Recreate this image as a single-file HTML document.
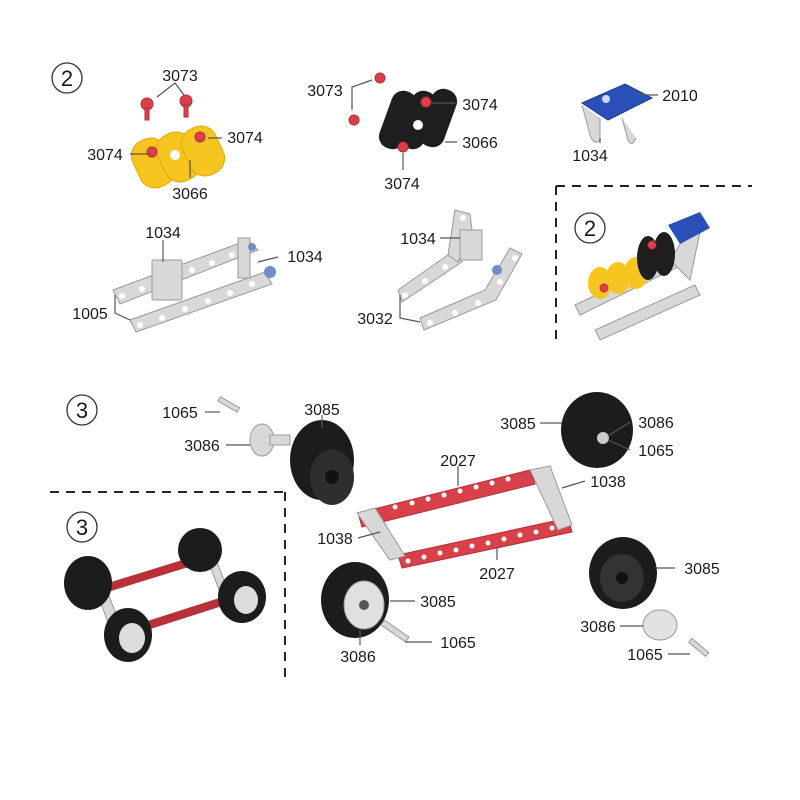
<!DOCTYPE html>
<html><head><meta charset="utf-8"><style>
html,body{margin:0;padding:0;background:#fff}
svg{display:block}
text{font-family:"Liberation Sans",sans-serif;font-size:16px;fill:#1a1a1a}
.c{font-size:22px}
.l{stroke:#555;stroke-width:1.2;fill:none}
.m{fill:#d8d8d8;stroke:#9a9a9a;stroke-width:1}
.r{fill:#d9414a;stroke:#b82c36;stroke-width:1}
.w{fill:#1c1c1c}
.h{fill:#fff}
</style></head><body>
<svg width="800" height="800" viewBox="0 0 800 800">
<!-- dashed separators -->
<g stroke="#222" stroke-width="2" stroke-dasharray="9,7" fill="none">
<line x1="556" y1="186" x2="752" y2="186"/><line x1="556" y1="186" x2="556" y2="340"/>
<line x1="50" y1="492" x2="285" y2="492"/><line x1="285" y1="492" x2="285" y2="680"/>
</g>
<!-- circled numbers -->
<g fill="none" stroke="#333" stroke-width="1.3">
<circle cx="67" cy="78" r="15"/><circle cx="590" cy="228" r="15"/>
<circle cx="82" cy="410" r="15"/><circle cx="82" cy="527" r="15"/>
</g>
<text class="c" x="67" y="86" text-anchor="middle">2</text>
<text class="c" x="590" y="236" text-anchor="middle">2</text>
<text class="c" x="82" y="418" text-anchor="middle">3</text>
<text class="c" x="82" y="535" text-anchor="middle">3</text>

<!-- top-left yellow part -->
<g fill="#f7c520" stroke="#e6a800">
<rect x="135" y="138" width="36" height="50" rx="16" transform="rotate(-25 153 163)"/>
<rect x="160" y="132" width="36" height="50" rx="16" transform="rotate(-25 178 157)"/>
<rect x="185" y="126" width="36" height="50" rx="16" transform="rotate(-25 203 151)"/>
</g>
<circle cx="175" cy="155" r="5" fill="#fff"/>
<circle cx="152" cy="152" r="5" class="r"/><circle cx="200" cy="137" r="5" class="r"/>
<circle cx="147" cy="104" r="6" class="r"/><rect x="145" y="108" width="4" height="12" class="r"/>
<circle cx="186" cy="101" r="6" class="r"/><rect x="184" y="105" width="4" height="12" class="r"/>
<path class="l" d="M157 97 L175 83 L184 95 M175 83"/>
<path class="l" d="M130 154 H150 M208 138 H222 M190 160 V178"/>
<text x="180" y="81" text-anchor="middle">3073</text>
<text x="105" y="160" text-anchor="middle">3074</text>
<text x="245" y="143" text-anchor="middle">3074</text>
<text x="190" y="199" text-anchor="middle">3066</text>

<!-- top-mid black part -->
<g fill="#1e1e1e">
<rect x="385" y="90" width="26" height="60" rx="12" transform="rotate(20 398 120)"/>
<rect x="405" y="90" width="26" height="60" rx="12" transform="rotate(20 418 120)"/>
<rect x="425" y="88" width="26" height="60" rx="12" transform="rotate(20 438 118)"/>
</g>
<circle cx="418" cy="125" r="5" fill="#fff"/>
<circle cx="426" cy="102" r="5" class="r"/><circle cx="403" cy="147" r="5" class="r"/>
<circle cx="380" cy="78" r="5" class="r"/><circle cx="354" cy="120" r="5" class="r"/>
<path class="l" d="M372 80 L352 87 L352 110 M432 103 H455 M445 142 H457 M403 153 V170"/>
<text x="325" y="96" text-anchor="middle">3073</text>
<text x="480" y="110" text-anchor="middle">3074</text>
<text x="480" y="148" text-anchor="middle">3066</text>
<text x="402" y="189" text-anchor="middle">3074</text>

<!-- top-right blue bracket -->
<path d="M582 105 L590 135 Q594 146 600 140 L600 118" class="m" fill="none" stroke-width="3"/>
<path d="M622 118 L628 140 Q632 148 636 138" class="m" fill="none" stroke-width="3"/>
<polygon points="582,103 625,84 652,98 608,120" fill="#2a4fb6" stroke="#1c3a8f"/>
<circle cx="606" cy="99" r="4" fill="#cfd8f0"/>
<path class="l" d="M640 95 H658 M600 138 V143"/>
<text x="680" y="101" text-anchor="middle">2010</text>
<text x="590" y="161" text-anchor="middle">1034</text>

<!-- 1005 assembly -->
<g class="m">
<polygon points="113,290 248,240 258,250 120,304"/>
<polygon points="130,320 265,272 272,284 136,332"/>
<rect x="152" y="260" width="30" height="40" rx="2"/>
<rect x="238" y="238" width="12" height="40"/>
</g>
<g fill="#fff"><circle cx="122" cy="296" r="3"/><circle cx="142" cy="289" r="3"/><circle cx="192" cy="270" r="3"/><circle cx="212" cy="263" r="3"/><circle cx="232" cy="255" r="3"/><circle cx="140" cy="325" r="3"/><circle cx="162" cy="318" r="3"/><circle cx="185" cy="309" r="3"/><circle cx="208" cy="301" r="3"/><circle cx="230" cy="293" r="3"/><circle cx="252" cy="284" r="3"/></g>
<circle cx="270" cy="272" r="6" fill="#6d8ec8"/><circle cx="252" cy="247" r="4" fill="#6d8ec8"/>
<path class="l" d="M163 240 V262 M258 262 L278 257 M115 295 V313 L130 320"/>
<text x="163" y="238" text-anchor="middle">1034</text>
<text x="305" y="262" text-anchor="middle">1034</text>
<text x="90" y="319" text-anchor="middle">1005</text>

<!-- 3032 assembly -->
<g class="m">
<polygon points="398,290 455,250 462,262 402,302"/>
<polygon points="455,210 470,214 472,230 458,262 448,255"/>
<polygon points="420,318 485,290 510,248 522,254 496,300 424,330"/>
<rect x="460" y="230" width="22" height="30"/>
</g>
<g fill="#fff"><circle cx="405" cy="295" r="3"/><circle cx="425" cy="281" r="3"/><circle cx="445" cy="267" r="3"/><circle cx="463" cy="218" r="3"/><circle cx="430" cy="323" r="3"/><circle cx="455" cy="313" r="3"/><circle cx="478" cy="303" r="3"/><circle cx="500" cy="282" r="3"/><circle cx="515" cy="258" r="3"/></g>
<circle cx="497" cy="270" r="5" fill="#6d8ec8"/>
<path class="l" d="M440 238 H460 M400 295 V318 L420 322"/>
<text x="418" y="244" text-anchor="middle">1034</text>
<text x="375" y="324" text-anchor="middle">3032</text>

<!-- final step 2 assembly -->
<g class="m"><polygon points="575,305 680,255 688,262 580,315"/><polygon points="595,330 695,285 700,295 600,340"/><polygon points="670,260 690,228 700,232 690,280"/></g>
<g fill="#f7c520"><ellipse cx="600" cy="283" rx="12" ry="16"/><ellipse cx="618" cy="278" rx="12" ry="16"/><ellipse cx="636" cy="273" rx="12" ry="16"/></g>
<g fill="#1e1e1e"><ellipse cx="648" cy="258" rx="11" ry="22"/><ellipse cx="664" cy="254" rx="11" ry="22"/></g>
<circle cx="604" cy="288" r="4" class="r"/><circle cx="652" cy="245" r="4" class="r"/>
<polygon points="668,225 700,212 710,228 680,244" fill="#2a4fb6"/>

<!-- section 3: top-left wheel -->
<rect x="218" y="402" width="22" height="5" class="m" transform="rotate(30 229 404)"/>
<path class="l" d="M205 412 H220"/>
<ellipse cx="262" cy="440" rx="12" ry="16" class="m"/>
<rect x="270" y="435" width="20" height="10" class="m"/>
<path class="l" d="M226 445 H250"/>
<ellipse cx="322" cy="460" rx="32" ry="40" class="w"/>
<ellipse cx="332" cy="477" rx="22" ry="28" fill="#2e2e2e"/><circle cx="332" cy="477" r="7" fill="#111"/>
<path class="l" d="M322 415 V428"/>
<text x="180" y="418" text-anchor="middle">1065</text>
<text x="202" y="451" text-anchor="middle">3086</text>
<text x="322" y="415" text-anchor="middle">3085</text>

<!-- top-right wheel -->
<ellipse cx="597" cy="430" rx="36" ry="38" class="w"/>
<circle cx="603" cy="438" r="6" fill="#ccc"/>
<path class="l" d="M540 423 H562 M608 436 L630 422 M608 440 L630 450"/>
<text x="518" y="429" text-anchor="middle">3085</text>
<text x="656" y="428" text-anchor="middle">3086</text>
<text x="656" y="456" text-anchor="middle">1065</text>

<!-- chassis -->
<polygon points="358,513 530,470 535,484 362,527" class="r"/>
<polygon points="398,555 568,518 572,532 402,568" class="r"/>
<polygon points="530,470 550,466 572,525 558,530" class="m"/>
<polygon points="357,513 375,508 405,556 390,560" class="m"/>
<g fill="#fff"><circle cx="395" cy="507" r="2.5"/><circle cx="412" cy="503" r="2.5"/><circle cx="428" cy="499" r="2.5"/><circle cx="444" cy="495" r="2.5"/><circle cx="460" cy="491" r="2.5"/><circle cx="476" cy="487" r="2.5"/><circle cx="492" cy="483" r="2.5"/><circle cx="508" cy="479" r="2.5"/><circle cx="408" cy="561" r="2.5"/><circle cx="424" cy="557" r="2.5"/><circle cx="440" cy="553" r="2.5"/><circle cx="456" cy="550" r="2.5"/><circle cx="472" cy="546" r="2.5"/><circle cx="488" cy="543" r="2.5"/><circle cx="504" cy="539" r="2.5"/><circle cx="520" cy="535" r="2.5"/><circle cx="536" cy="532" r="2.5"/><circle cx="552" cy="528" r="2.5"/></g>
<path class="l" d="M458 466 V486 M562 488 L585 481 M358 538 L380 532 M497 547 V560"/>
<text x="458" y="466" text-anchor="middle">2027</text>
<text x="608" y="487" text-anchor="middle">1038</text>
<text x="335" y="544" text-anchor="middle">1038</text>
<text x="497" y="579" text-anchor="middle">2027</text>

<!-- bottom-left wheel -->
<ellipse cx="355" cy="600" rx="34" ry="38" class="w"/>
<ellipse cx="364" cy="605" rx="20" ry="24" fill="#e0e0e0" stroke="#999"/><circle cx="364" cy="605" r="5" fill="#555"/>
<rect x="380" y="628" width="30" height="6" class="m" transform="rotate(35 395 631)"/>
<path class="l" d="M390 601 H415 M405 642 H432 M360 630 V645"/>
<text x="438" y="607" text-anchor="middle">3085</text>
<text x="458" y="648" text-anchor="middle">1065</text>
<text x="358" y="662" text-anchor="middle">3086</text>

<!-- bottom-right wheel -->
<ellipse cx="623" cy="573" rx="34" ry="36" class="w"/>
<ellipse cx="622" cy="578" rx="22" ry="24" fill="#333"/><circle cx="622" cy="578" r="6" fill="#111"/>
<ellipse cx="660" cy="625" rx="17" ry="15" fill="#e2e2e2" stroke="#999"/>
<rect x="688" y="645" width="22" height="5" class="m" transform="rotate(40 699 647)"/>
<path class="l" d="M655 568 H675 M620 626 H643 M668 654 H690"/>
<text x="702" y="574" text-anchor="middle">3085</text>
<text x="598" y="632" text-anchor="middle">3086</text>
<text x="645" y="660" text-anchor="middle">1065</text>

<!-- final step 3 assembly -->
<polygon points="95,587 205,553 208,561 98,595" fill="#b8303a"/>
<polygon points="135,625 238,592 241,600 138,633" fill="#b8303a"/>
<polygon points="95,587 105,585 120,625 110,628" class="m"/>
<polygon points="205,553 213,552 228,590 220,592" class="m"/>
<ellipse cx="200" cy="550" rx="22" ry="22" class="w"/>
<ellipse cx="88" cy="583" rx="24" ry="27" class="w"/>
<ellipse cx="242" cy="597" rx="24" ry="26" class="w"/><ellipse cx="246" cy="600" rx="12" ry="14" fill="#ddd"/>
<ellipse cx="128" cy="635" rx="24" ry="27" class="w"/><ellipse cx="132" cy="638" rx="13" ry="15" fill="#ddd"/>
</svg>
</body></html>
